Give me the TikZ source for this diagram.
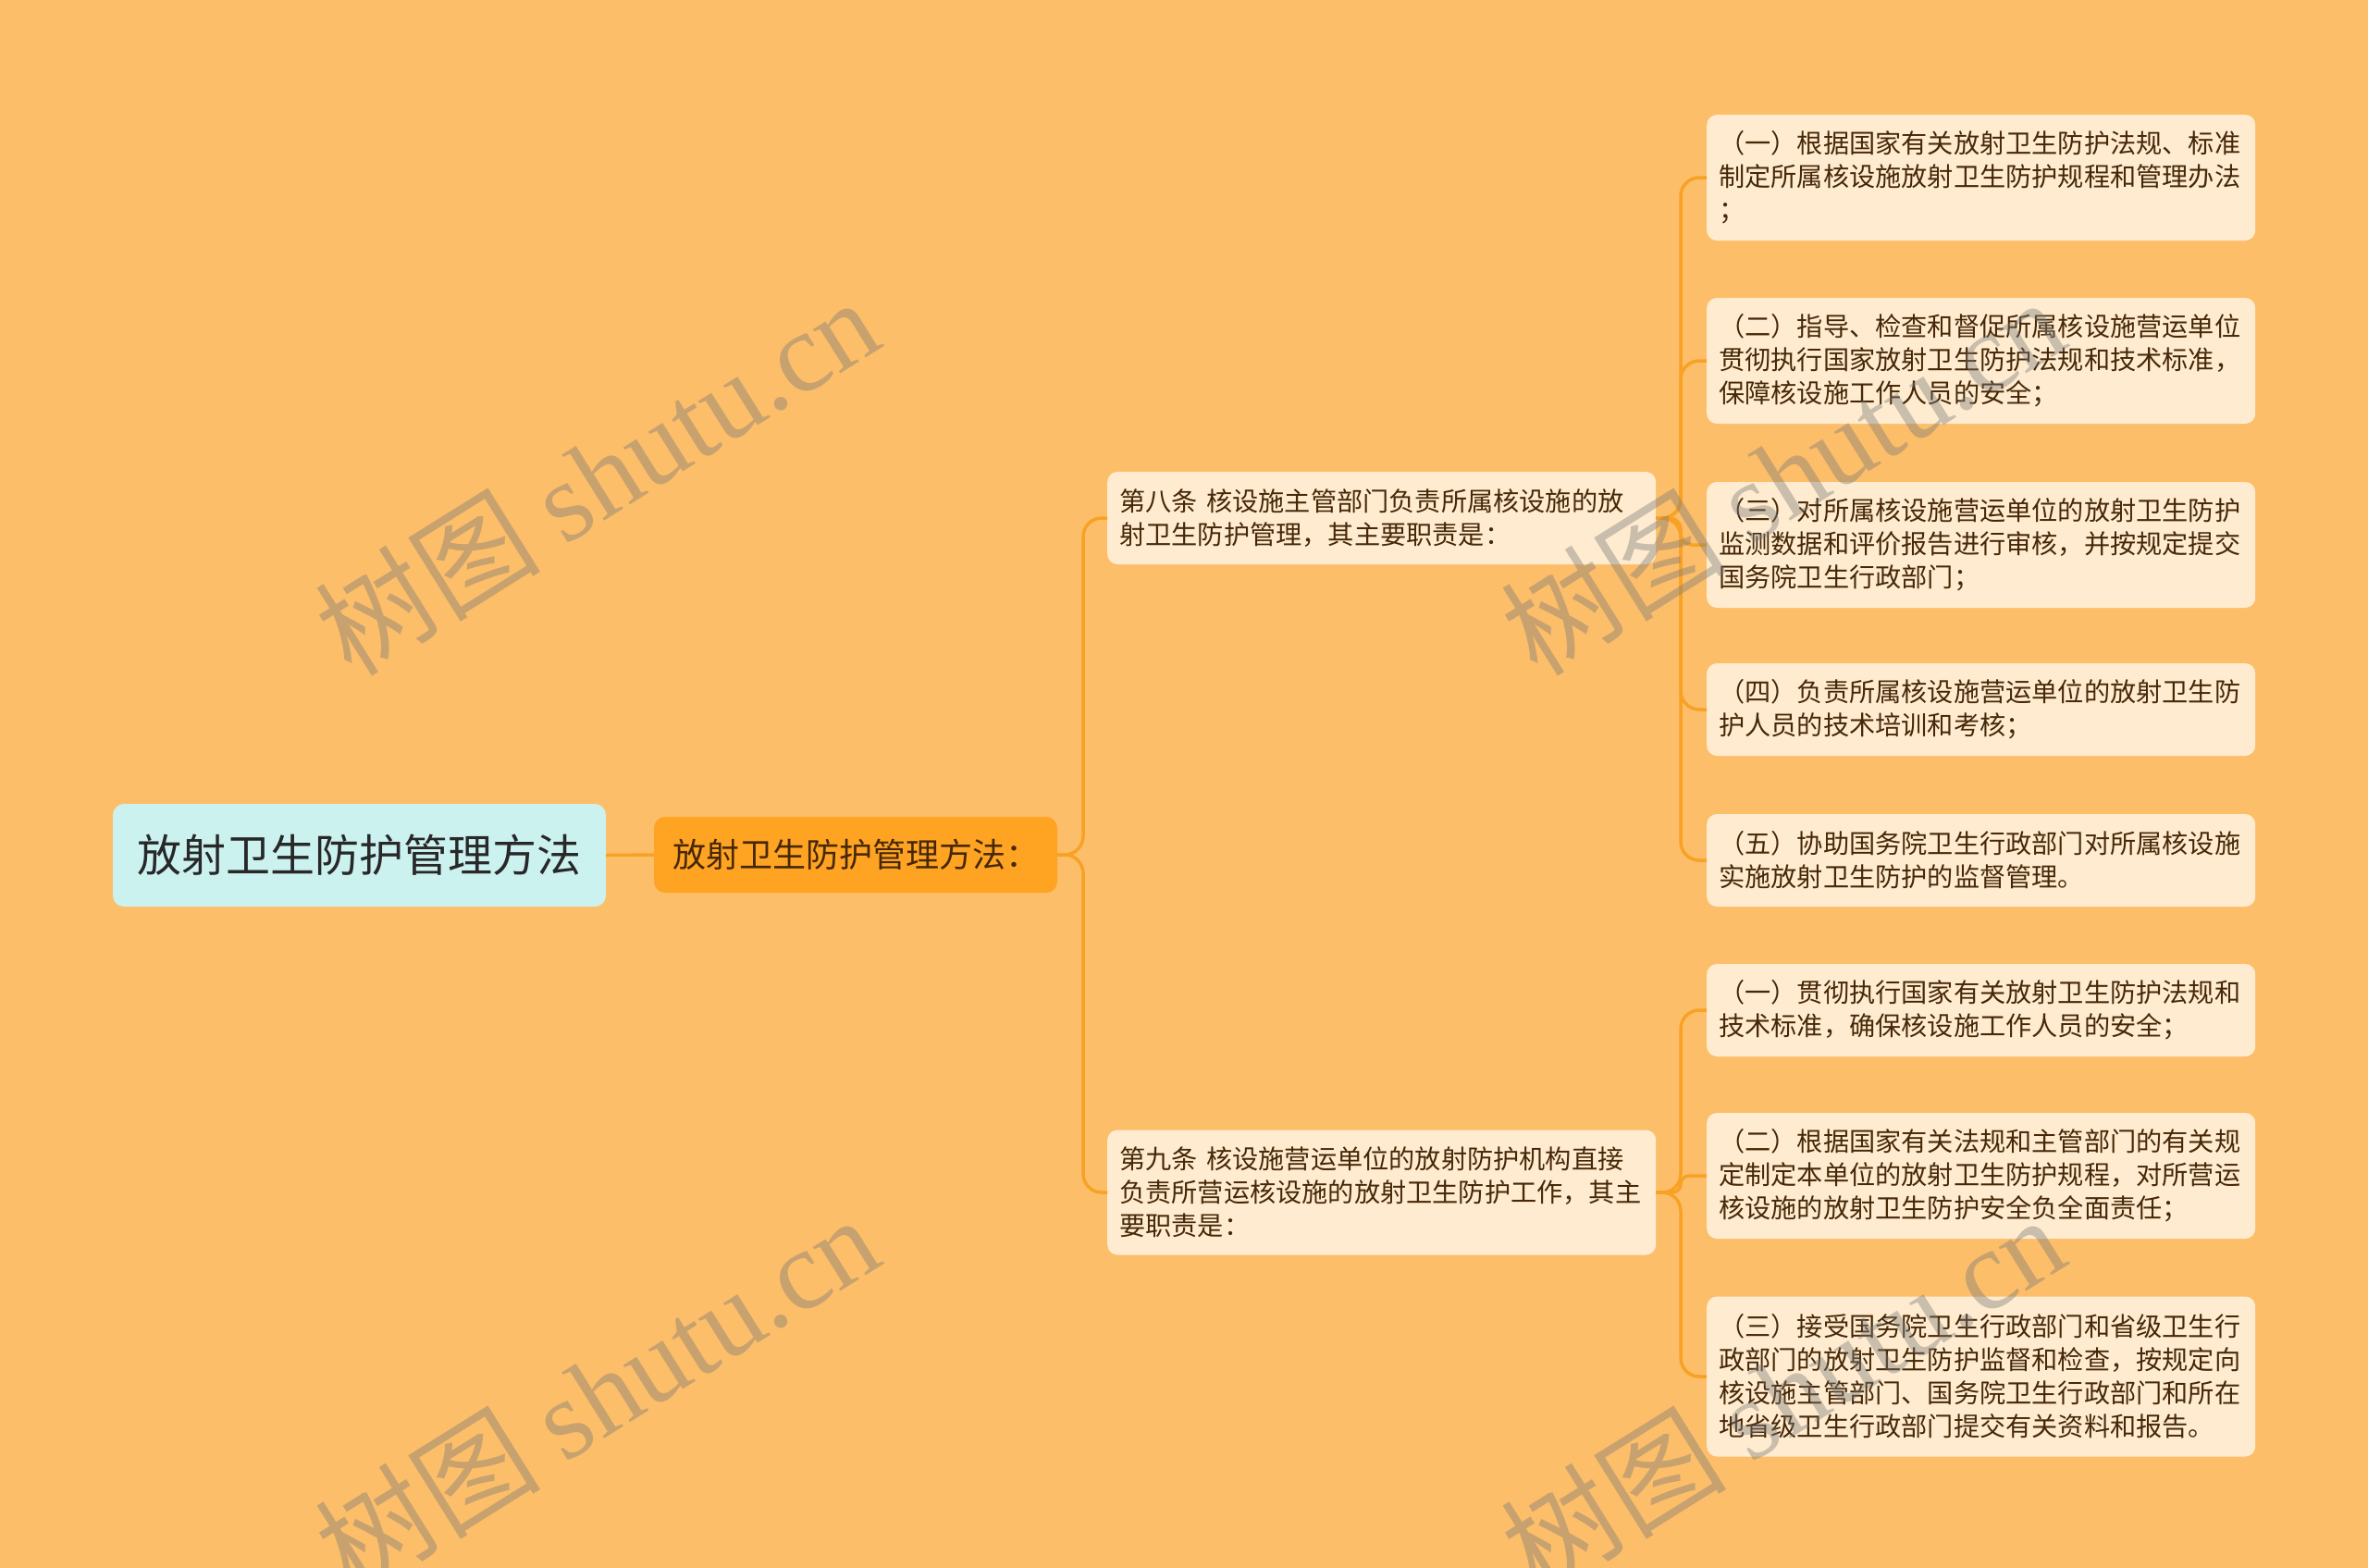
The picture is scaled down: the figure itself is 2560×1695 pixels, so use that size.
\documentclass[tikz,border=0pt]{standalone}
\usepackage{fontspec}
\setmainfont{Noto Sans CJK SC}
\newfontfamily\wmserif{Liberation Serif}
\usetikzlibrary{positioning}
\definecolor{bgc}{RGB}{253,190,106}
\definecolor{linec}{RGB}{247,162,36}
\definecolor{rootfill}{RGB}{204,242,240}
\definecolor{lonefill}{RGB}{255,163,34}
\definecolor{leaffill}{RGB}{255,236,208}
\definecolor{leaftext}{RGB}{70,40,8}
\definecolor{roottext}{RGB}{40,40,40}
\definecolor{wmc}{RGB}{120,120,120}
\tikzset{
  conn/.style={draw=linec, line width=3.5pt},
  rootbox/.style={fill=rootfill, rounded corners=12pt, minimum width=533pt, minimum height=111pt, inner sep=0pt, text=roottext, font=\fontsize{48}{56}\selectfont},
  lonebox/.style={fill=lonefill, rounded corners=12pt, minimum width=436pt, minimum height=82pt, inner sep=0pt, text=leaftext, font=\fontsize{36}{44}\selectfont},
  leafbox/.style={fill=leaffill, rounded corners=11pt, text width=567pt, inner xsep=13pt, inner ysep=0pt, align=left, anchor=west, text=leaftext, font=\fontsize{28.2}{36}\selectfont},
  wm/.style={text=wmc, opacity=0.4, rotate=32, font=\fontsize{122}{130}\selectfont}
}
\begin{document}
\begin{tikzpicture}[x=1pt,y=-1pt]
\fill[bgc] (0,0) rectangle (2560,1695);
\useasboundingbox (0,0) rectangle (2560,1695);

% nodes
\node[rootbox] (root) at (388.5,924.5) {放射卫生防护管理方法};
\node[lonebox] (lone) at (925,924) {放射卫生防护管理方法：};

\node[leafbox, minimum height=100pt] (n8) at (1197,560) {第八条 核设施主管部门负责所属核设施的放\\射卫生防护管理，其主要职责是：};
\node[leafbox, minimum height=135pt] (n9) at (1197,1289) {第九条 核设施营运单位的放射防护机构直接\\负责所营运核设施的放射卫生防护工作，其主\\要职责是：};

\node[leafbox, minimum height=136pt] (a1) at (1845,192) {（一）根据国家有关放射卫生防护法规、标准\\制定所属核设施放射卫生防护规程和管理办法\\；};
\node[leafbox, minimum height=136pt] (a2) at (1845,390) {（二）指导、检查和督促所属核设施营运单位\\贯彻执行国家放射卫生防护法规和技术标准，\\保障核设施工作人员的安全；};
\node[leafbox, minimum height=136pt] (a3) at (1845,589) {（三）对所属核设施营运单位的放射卫生防护\\监测数据和评价报告进行审核，并按规定提交\\国务院卫生行政部门；};
\node[leafbox, minimum height=100pt] (a4) at (1845,767) {（四）负责所属核设施营运单位的放射卫生防\\护人员的技术培训和考核；};
\node[leafbox, minimum height=100pt] (a5) at (1845,930) {（五）协助国务院卫生行政部门对所属核设施\\实施放射卫生防护的监督管理。};

\node[leafbox, minimum height=100pt] (b1) at (1845,1092) {（一）贯彻执行国家有关放射卫生防护法规和\\技术标准，确保核设施工作人员的安全；};
\node[leafbox, minimum height=136pt] (b2) at (1845,1271) {（二）根据国家有关法规和主管部门的有关规\\定制定本单位的放射卫生防护规程，对所营运\\核设施的放射卫生防护安全负全面责任；};
\node[leafbox, minimum height=173pt] (b3) at (1845,1488) {（三）接受国务院卫生行政部门和省级卫生行\\政部门的放射卫生防护监督和检查，按规定向\\核设施主管部门、国务院卫生行政部门和所在\\地省级卫生行政部门提交有关资料和报告。};

% connectors
\coordinate (t1) at (1171,924);
\coordinate (t8) at (1817,560);
\coordinate (t9) at (1817,1289);
\draw[conn] (root.east) -- (lone.west);
\draw[conn, rounded corners=20pt] (lone.east) -- (t1) -- (t1 |- n8.west) -- (n8.west);
\draw[conn, rounded corners=20pt] (lone.east) -- (t1) -- (t1 |- n9.west) -- (n9.west);

\draw[conn, rounded corners=20pt] (n8.east) -- (t8) -- (t8 |- a1.west) -- (a1.west);
\draw[conn, rounded corners=20pt] (n8.east) -- (t8) -- (t8 |- a2.west) -- (a2.west);
\draw[conn, rounded corners=12pt] (n8.east) -- (t8) -- (t8 |- a3.west) -- (a3.west);
\draw[conn, rounded corners=20pt] (n8.east) -- (t8) -- (t8 |- a4.west) -- (a4.west);
\draw[conn, rounded corners=20pt] (n8.east) -- (t8) -- (t8 |- a5.west) -- (a5.west);

\draw[conn, rounded corners=20pt] (n9.east) -- (t9) -- (t9 |- b1.west) -- (b1.west);
\draw[conn, rounded corners=9pt] (n9.east) -- (t9) -- (t9 |- b2.west) -- (b2.west);
\draw[conn, rounded corners=20pt] (n9.east) -- (t9) -- (t9 |- b3.west) -- (b3.west);

% watermarks
\node[wm] (w1) at (645,514) {树图 {\wmserif shutu.cn}};
\node[wm] (w2) at (645,1506) {树图 {\wmserif shutu.cn}};
\node[wm] (w3) at (1927,514) {树图 {\wmserif shutu.cn}};
\node[wm] (w4) at (1927,1506) {树图 {\wmserif shutu.cn}};
\end{tikzpicture}
\end{document}
